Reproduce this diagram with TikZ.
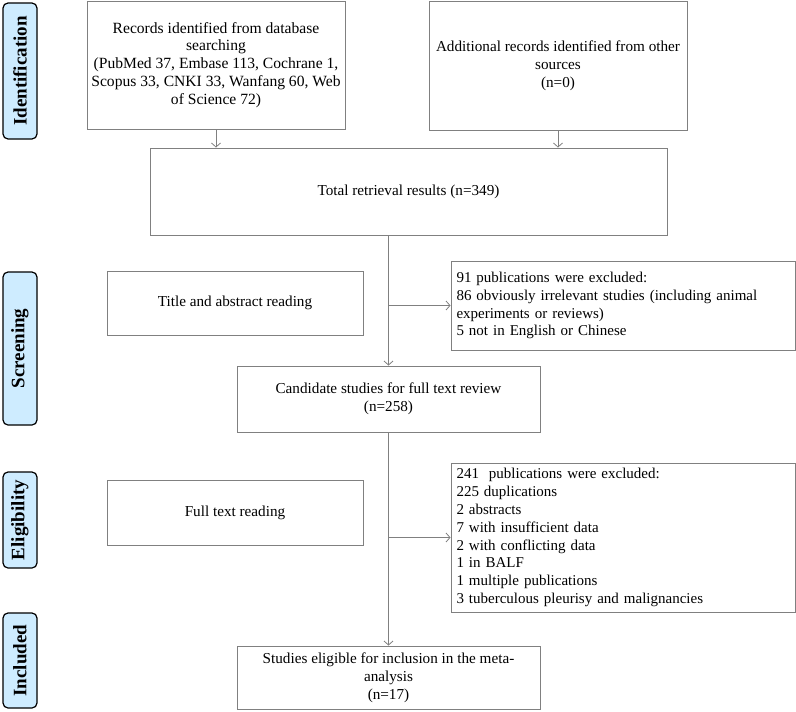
\documentclass[tikz,border=0pt]{standalone}
\usepackage{fontspec}
\setmainfont{Liberation Serif}
\usetikzlibrary{arrows.meta}
\definecolor{boxgray}{RGB}{128,128,128}
\definecolor{sidefill}{RGB}{206,236,255}
\tikzset{
  box/.style={draw=boxgray, line width=0.9pt, rectangle, inner sep=2pt, align=center, font=\fontsize{15.2}{17.9}\selectfont},
  exbox/.style={draw=boxgray, line width=0.9pt, rectangle, inner sep=5pt, align=left, anchor=center, font=\fontsize{15}{17.9}\selectfont},
  side/.style={draw=black, line width=1.2pt, fill=sidefill, rounded corners=5pt, rotate=90, minimum height=34pt, inner sep=0pt, font=\bfseries\fontsize{19}{21}\selectfont},
  arr/.style={draw=boxgray, line width=0.8pt, -{Straight Barb[length=4pt,width=9pt]}}
}
\begin{document}
\begin{tikzpicture}[x=1pt,y=-1pt]
\useasboundingbox (0,0) rectangle (796,712);
% side labels
\node[side, minimum width=136pt] (sid) at (20,71) {Identification};
\node[side, minimum width=153pt] (ssc) at (20,348.5) {Screening};
\node[side, minimum width=96pt] (sel) at (20,520) {Eligibility};
\node[side, minimum width=95pt] (sin) at (20,660.5) {Included};
% boxes
\node[box, minimum width=258pt, minimum height=128pt, font=\fontsize{15.6}{17.9}\selectfont] (rec) at (216,65)
 {Records identified from database\\searching\\(PubMed 37, Embase 113, Cochrane 1,\\Scopus 33, CNKI 33, Wanfang 60, Web\\of Science 72)};
\node[box, minimum width=258pt, minimum height=129pt] (add) at (558,65.5)
 {Additional records identified from other\\sources\\(n=0)};
\node[box, minimum width=517pt, minimum height=87pt] (tot) at (408.5,191.5)
 {Total retrieval results (n=349)};
\node[box, minimum width=256pt, minimum height=64pt] (tit) at (235,303)
 {Title and abstract reading};
\node[exbox, minimum width=344pt, minimum height=89pt, text width=333pt] (ex1) at (623,305.5)
 {91 publications were excluded:\\\makebox[333pt][s]{86 obviously irrelevant studies (including animal}\\experiments or reviews)\\5 not in English or Chinese};
\node[box, minimum width=303pt, minimum height=66pt] (can) at (388.5,399)
 {Candidate studies for full text review\\(n=258)};
\node[box, minimum width=256pt, minimum height=65pt] (ful) at (235,512.5)
 {Full text reading};
\node[exbox, minimum width=344pt, minimum height=149pt, text width=333pt] (ex2) at (623,537.5)
 {241\ \ publications were excluded:\\225 duplications\\2 abstracts\\7 with insufficient data\\2 with conflicting data\\1 in BALF\\1 multiple publications\\3 tuberculous pleurisy and malignancies};
\node[box, minimum width=303pt, minimum height=63pt] (stu) at (388.5,677.5)
 {Studies eligible for inclusion in the meta-\\analysis\\(n=17)};
% connectors
\draw[arr] (rec.south) -- (rec.south |- tot.north);
\draw[arr] (add.south) -- (add.south |- tot.north);
\draw[arr] (can.north |- tot.south) -- (can.north);
\draw[arr] (can.north |- ex1.west) -- (ex1.west);
\draw[arr] (can.south) -- (stu.north);
\draw[arr] (can.south |- ex2.west) -- (ex2.west);
\end{tikzpicture}
\end{document}
